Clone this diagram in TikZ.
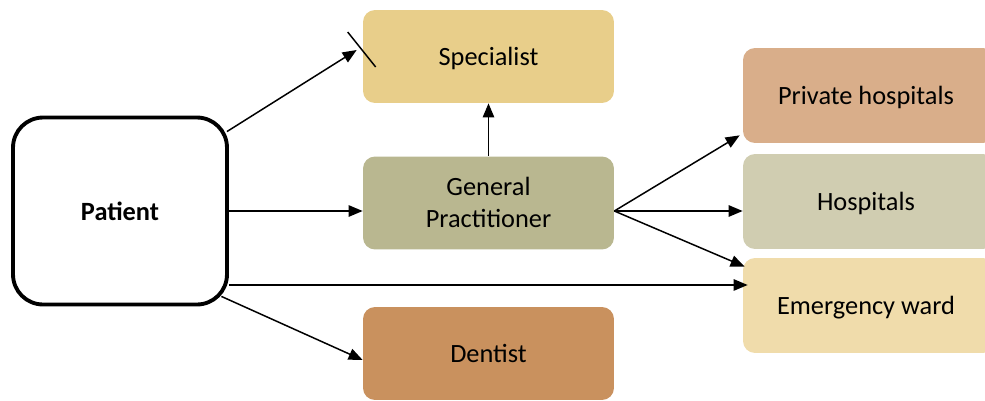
\documentclass[tikz,border=0pt]{standalone}
\usepackage{fontspec}
\setmainfont{Carlito}
\usetikzlibrary{arrows.meta}
\definecolor{cSpec}{HTML}{E8CE8A}
\definecolor{cGP}{HTML}{B9B790}
\definecolor{cDent}{HTML}{C9915E}
\definecolor{cPriv}{HTML}{D9AE8A}
\definecolor{cHosp}{HTML}{D0CDB1}
\definecolor{cEmer}{HTML}{F0DCAB}
\begin{document}
\begin{tikzpicture}[x=0.02cm,y=-0.02cm,
  box/.style={rounded corners=0.24cm, minimum width=5.02cm, minimum height=1.86cm,
    inner sep=0pt, align=center, font=\fontsize{15}{18}\selectfont,
    text depth=0.5pt},
  rbox/.style={box, minimum width=5.04cm, minimum height=1.9cm},
  arr/.style={-{Triangle[length=8pt,width=6.5pt]}, line width=0.85pt},
  strike/.style={line width=0.85pt}]
\useasboundingbox (0,0) rectangle (985,400);
\clip (0,0) rectangle (985,400);
\node[draw, line width=2.2pt, rounded corners=0.6cm, minimum width=4.28cm, minimum height=3.74cm,
  font=\fontsize{15}{18}\selectfont\bfseries, fill=white] (pat) at (120,211) {Patient};
\node[box, fill=cSpec] (spec) at (488.5,56.5) {Specialist};
\node[box, fill=cGP] (gp) at (488.5,203) {General\\Practitioner};
\node[box, fill=cDent] (dent) at (488.5,353.5) {Dentist};
\node[rbox, fill=cPriv] (priv) at (869,95.5) {\hspace*{-0.12cm}Private hospitals};
\node[rbox, fill=cHosp] (hosp) at (869,201.5) {\hspace*{-0.12cm}Hospitals};
\node[rbox, fill=cEmer] (emer) at (869,305.5) {\hspace*{-0.12cm}Emergency ward};
% Patient connectors
\draw[arr] ([xshift=-0.04cm,yshift=-0.32cm]pat.north east) -- ([xshift=-0.12cm,yshift=0.13cm]spec.west);
\draw[strike] ([xshift=-0.3cm,yshift=0.49cm]spec.west) -- ([xshift=0.26cm,yshift=-0.21cm]spec.west);
\draw[arr] (pat.east) -- (pat.east -| gp.west);
\draw[arr] ([yshift=-1.48cm]pat.east) -- ([xshift=0.1cm,yshift=-1.48cm]pat.east -| emer.west);
\draw[arr] ([xshift=-0.15cm,yshift=0.2cm]pat.south east) -- ([yshift=-0.13cm]dent.west);
% GP connectors
\draw[arr] (gp.north) -- (spec.south);
\draw[arr] ([yshift=-0.16cm]gp.east) -- ([xshift=-0.06cm,yshift=0.16cm]priv.south west);
\draw[arr] ([yshift=-0.16cm]gp.east) -- ([yshift=-0.16cm]gp.east -| hosp.west);
\draw[arr] ([yshift=-0.16cm]gp.east) -- ([xshift=0.04cm,yshift=-0.18cm]emer.north west);
\end{tikzpicture}
\end{document}
